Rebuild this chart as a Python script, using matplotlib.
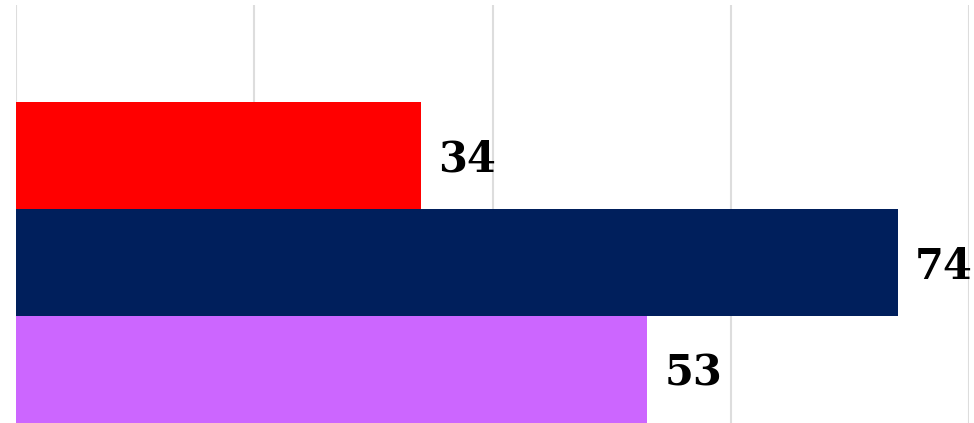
import matplotlib
matplotlib.use("Agg")
import matplotlib.pyplot as plt

categories = ["A", "B", "C"]
values = [34, 74, 53]
colors = ["#ff0000", "#001f5c", "#cc66ff"]
xticks = [0, 20, 40, 60, 80]

W, H = 974, 423
fig = plt.figure(figsize=(W / 100, H / 100), dpi=100)
ax = fig.add_axes([16 / W, 0, (969 - 16) / W, 418 / H])

ypos = [2, 1, 0]
ax.barh(ypos, values, height=1.0, color=colors, zorder=2)
for y, v in zip(ypos, values):
    ax.text(v + 1.45, y - 0.04, str(v), va="center", ha="left",
            fontsize=30, fontweight="heavy", family="DejaVu Serif", color="black",
            zorder=3, clip_on=False)

ax.set_xlim(0, 80)
ax.set_ylim(-0.5, 3.407)
ax.set_xticks(xticks)
ax.set_yticks([])
ax.tick_params(axis="x", length=0, labelbottom=False)
ax.grid(axis="x", color="#dddddd", linewidth=1.5, zorder=0)
for s in ax.spines.values():
    s.set_visible(False)

fig.savefig("out.png", dpi=100)
